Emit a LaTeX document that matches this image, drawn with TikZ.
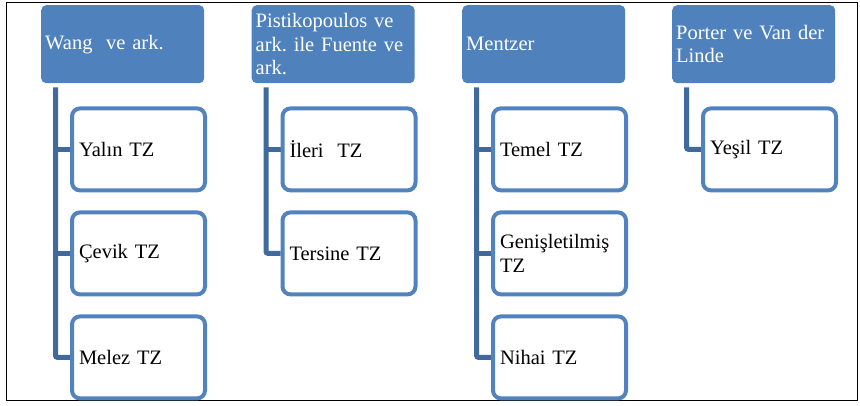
\documentclass[tikz,border=0pt]{standalone}
\usepackage{fontspec}
\setmainfont{Liberation Serif}
\usetikzlibrary{positioning,backgrounds}

\definecolor{hdrblue}{HTML}{4F81BD}
\definecolor{leafblue}{HTML}{5383BE}
\definecolor{connblue}{HTML}{3F6A9B}

\begin{document}
\frenchspacing
\begin{tikzpicture}[x=1pt,y=-1pt,
	font=\fontsize{20.5}{23.5}\selectfont,
	head/.style={rectangle,rounded corners=5pt,fill=hdrblue,text=white,align=left,
		text width=155pt,inner sep=4pt,minimum height=78pt,anchor=north west},
	leaf/.style={rectangle,rounded corners=8pt,draw=leafblue,line width=4pt,fill=white,
		align=left,text width=119pt,inner sep=7pt,minimum width=133pt,minimum height=82pt},
	conn/.style={connblue,line width=5pt,rounded corners=2pt}]
	\useasboundingbox (0,0) rectangle (860,405);
	\draw [line width=1pt] (6,2.5) rectangle (857,400);

	% headers
	\node [head] (wang) at (41,5) {Wang\ \ ve ark.};
	\node [head] (pist) at (251.5,5) {Pistikopoulos ve\\ark. ile Fuente ve\\ark.};
	\node [head] (mentzer) at (462,5) {Mentzer};
	\node [head] (porter) at (672,5) {Porter ve Van der\\Linde};

	% leaves
	\node [leaf,anchor=north west] (yalin) at ([xshift=29pt,yshift=-23pt]wang.south west) {Yalın TZ};
	\node [leaf,below=18pt of yalin] (cevik) {Çevik TZ};
	\node [leaf,below=18pt of cevik] (melez) {Melez TZ};

	\node [leaf,anchor=north west] (ileri) at ([xshift=29pt,yshift=-23pt]pist.south west) {İleri\ \ TZ};
	\node [leaf,below=18pt of ileri] (tersine) {Tersine TZ};

	\node [leaf,anchor=north west] (temel) at ([xshift=29pt,yshift=-23pt]mentzer.south west) {Temel TZ};
	\node [leaf,below=18pt of temel] (genis) {Genişletilmiş\\TZ};
	\node [leaf,below=18pt of genis] (nihai) {Nihai TZ};

	\node [leaf,anchor=north west] (yesil) at ([xshift=29pt,yshift=-23pt]porter.south west) {Yeşil TZ};

	% connectors
	\coordinate (wangc) at ([xshift=14.5pt,yshift=-4pt]wang.south west);
	\coordinate (pistc) at ([xshift=14.5pt,yshift=-4pt]pist.south west);
	\coordinate (mentzerc) at ([xshift=14.5pt,yshift=-4pt]mentzer.south west);
	\coordinate (porterc) at ([xshift=14.5pt,yshift=-4pt]porter.south west);
	\begin{scope}[on background layer]
		\draw [conn] (wangc) |- (melez.west);
		\draw [conn] (yalin.west) -- (yalin.west -| wangc);
		\draw [conn] (cevik.west) -- (cevik.west -| wangc);
		\draw [conn] (pistc) |- (tersine.west);
		\draw [conn] (ileri.west) -- (ileri.west -| pistc);
		\draw [conn] (mentzerc) |- (nihai.west);
		\draw [conn] (temel.west) -- (temel.west -| mentzerc);
		\draw [conn] (genis.west) -- (genis.west -| mentzerc);
		\draw [conn] (porterc) |- (yesil.west);
	\end{scope}
\end{tikzpicture}
\end{document}
